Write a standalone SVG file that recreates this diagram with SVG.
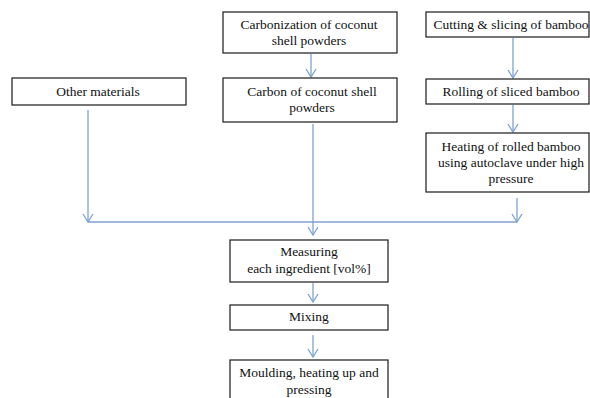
<svg xmlns="http://www.w3.org/2000/svg" width="590" height="398" viewBox="0 0 590 398">
<style>
.box{fill:#fff;stroke:#1a1a1a;stroke-width:1.2}
.t{font-family:'Liberation Serif','DejaVu Serif',serif;font-size:13.5px;fill:#111;text-anchor:middle}
.c{fill:none;stroke:#7ea1d3;stroke-width:1.3}
</style>
<defs>
<marker id="a" markerWidth="12" markerHeight="12" refX="10" refY="6" orient="auto" markerUnits="userSpaceOnUse" viewBox="0 0 12 12">
<path d="M2 1 L10 6 L2 11" fill="none" stroke="#7ea1d3" stroke-width="1.3"/>
</marker>
</defs>
<rect width="590" height="398" fill="#fff"/>
<g id="connectors">
<line class="c" x1="311" y1="54" x2="311" y2="77" marker-end="url(#a)"/>
<line class="c" x1="513" y1="38" x2="513" y2="78" marker-end="url(#a)"/>
<line class="c" x1="513" y1="105" x2="513" y2="132" marker-end="url(#a)"/>
<line class="c" x1="88" y1="110" x2="88" y2="222" marker-end="url(#a)"/>
<line class="c" x1="517" y1="198" x2="517" y2="222" marker-end="url(#a)"/>
<line class="c" x1="88" y1="222" x2="517" y2="222"/>
<line class="c" x1="313" y1="124" x2="313" y2="235" marker-end="url(#a)"/>
<line class="c" x1="313" y1="283" x2="313" y2="302" marker-end="url(#a)"/>
<line class="c" x1="313" y1="335" x2="313" y2="357" marker-end="url(#a)"/>
</g>
<g id="carbonization">
<rect class="box" x="223" y="12" width="174" height="41"/>
<text class="t" x="309" y="29">Carbonization of coconut</text>
<text class="t" x="309" y="45">shell powders</text>
</g>
<g id="cutting">
<rect class="box" x="426" y="12" width="163" height="25"/>
<text class="t" x="511" y="29">Cutting &amp; slicing  of bamboo</text>
</g>
<g id="other">
<rect class="box" x="12" y="78" width="174" height="27"/>
<text class="t" x="98" y="96">Other materials</text>
</g>
<g id="carbon">
<rect class="box" x="223" y="78" width="174" height="44"/>
<text class="t" x="312" y="96">Carbon of coconut shell</text>
<text class="t" x="312" y="112">powders</text>
</g>
<g id="rolling">
<rect class="box" x="426" y="79" width="163" height="25"/>
<text class="t" x="511" y="96">Rolling of sliced bamboo</text>
</g>
<g id="heating">
<rect class="box" x="426" y="133" width="163" height="59"/>
<text class="t" x="511" y="151">Heating of rolled bamboo</text>
<text class="t" x="511" y="167">using autoclave under high</text>
<text class="t" x="511" y="183">pressure</text>
</g>
<g id="measuring">
<rect class="box" x="230" y="240" width="158" height="42"/>
<text class="t" x="309" y="256">Measuring</text>
<text class="t" x="309" y="273">each ingredient [vol%]</text>
</g>
<g id="mixing">
<rect class="box" x="230" y="305" width="158" height="25"/>
<text class="t" x="309" y="321">Mixing</text>
</g>
<g id="moulding">
<rect class="box" x="230" y="360" width="158" height="50"/>
<text class="t" x="309" y="377">Moulding, heating up and</text>
<text class="t" x="309" y="394">pressing</text>
</g>
</svg>
